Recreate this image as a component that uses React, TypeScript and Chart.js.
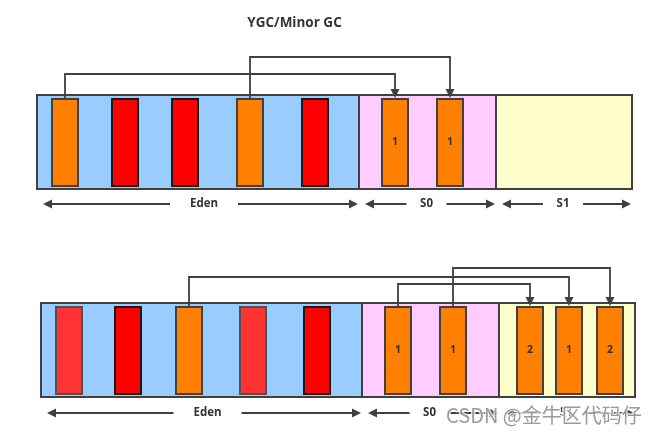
import React, { useEffect, useRef } from "react";
import { Chart, registerables } from "chart.js";

Chart.register(...registerables);

// ---- diagram data ----
const TITLE = "YGC/Minor GC";
const WATERMARK = "CSDN @金牛区代码仔";
const REGION_NAMES = ["Eden", "S0", "S1"];
const REGION_COLORS = ["#99CCFF", "#FFCCFF", "#FFFFCC"];

// row extents (top / bottom) in diagram units
const ROW_TOP = [95, 303];
const ROW_BOTTOM = [189, 397];
const ROW_LABEL_Y = [204, 413];

// region boundaries per row
const ROW1_BOUNDS = [37, 359, 496, 632];
const ROW2_BOUNDS = [41, 362, 499, 635];

// block left edges per row
const ROW1_BLOCKS = [52, 112, 172, 237, 302, 382, 437];
const ROW2_BLOCKS = [56, 115, 176, 240, 304, 385, 440, 517, 556, 597];
// block kinds: "live" (orange), "dead" (red), "dim" (light red)
const ROW1_KINDS = ["live", "dead", "dead", "live", "dead", "live", "live"];
const ROW2_KINDS = ["dim", "dead", "live", "dim", "dead", "live", "live", "live", "live", "live"];
// block age labels
const ROW1_AGES = ["", "", "", "", "", "1", "1"];
const ROW2_AGES = ["", "", "", "", "", "1", "1", "2", "1", "2"];

// connectors: [fromBlock, toBlock, elbowY]
const ROW1_MOVES = [
  [0, 5, 74],
  [3, 6, 57],
];
const ROW2_MOVES = [
  [2, 8, 277],
  [5, 7, 284],
  [6, 9, 268],
];

// label arrows: offset of label centre from region centre, half-gap around text
const LABEL_OFFSET = [6, -1, -1];
const LABEL_GAP = [34, 20, 20];

const BLOCK_W = 26;

const STYLE = {
  line: "#404040",
  live: "#FF8000",
  dead: "#FF0000",
  dim: "#FF3333",
  liveBorder: "#404040",
  deadBorder: "#1a1a1a",
  dimBorder: "#505050",
  text: "#333333",
};

const diagramPlugin = {
  id: "gcDiagram",
  afterDraw(chart: any) {
    const { ctx } = chart;
    const xs = chart.scales.x;
    const ys = chart.scales.y;
    const px = (v: number) => xs.getPixelForValue(v);
    const py = (v: number) => ys.getPixelForValue(v);

    ctx.save();

    // title
    ctx.fillStyle = STYLE.text;
    ctx.font = "bold 13.5px 'Open Sans', 'DejaVu Sans', sans-serif";
    ctx.textAlign = "center";
    ctx.textBaseline = "middle";
    ctx.fillText(TITLE, px(294.5), py(23));

    const rows = [
      { bounds: ROW1_BOUNDS, blocks: ROW1_BLOCKS, kinds: ROW1_KINDS, ages: ROW1_AGES, moves: ROW1_MOVES },
      { bounds: ROW2_BOUNDS, blocks: ROW2_BLOCKS, kinds: ROW2_KINDS, ages: ROW2_AGES, moves: ROW2_MOVES },
    ];

    const arrowHead = (x: number, y: number, dir: "down" | "left" | "right") => {
      ctx.beginPath();
      const L = 9, W = 4.5;
      if (dir === "down") {
        ctx.moveTo(x, y);
        ctx.lineTo(x - W, y - L);
        ctx.lineTo(x + W, y - L);
      } else if (dir === "left") {
        ctx.moveTo(x, y);
        ctx.lineTo(x + L, y - W);
        ctx.lineTo(x + L, y + W);
      } else {
        ctx.moveTo(x, y);
        ctx.lineTo(x - L, y - W);
        ctx.lineTo(x - L, y + W);
      }
      ctx.closePath();
      ctx.fillStyle = STYLE.line;
      ctx.fill();
    };

    rows.forEach((row, r) => {
      const top = py(ROW_TOP[r]);
      const bottom = py(ROW_BOTTOM[r]);
      // regions
      for (let i = 0; i < 3; i++) {
        const x0 = px(row.bounds[i]);
        const x1 = px(row.bounds[i + 1]);
        ctx.fillStyle = REGION_COLORS[i];
        ctx.fillRect(x0, top, x1 - x0, bottom - top);
      }
      ctx.strokeStyle = STYLE.line;
      ctx.lineWidth = 2;
      for (let i = 0; i < 3; i++) {
        const x0 = px(row.bounds[i]);
        const x1 = px(row.bounds[i + 1]);
        ctx.strokeRect(x0, top, x1 - x0, bottom - top);
      }

      // blocks
      const bTop = py(ROW_TOP[r] + 4);
      const bBot = py(ROW_BOTTOM[r] - 3);
      row.blocks.forEach((bx, i) => {
        const kind = row.kinds[i];
        const x0 = px(bx);
        const x1 = px(bx + BLOCK_W);
        ctx.fillStyle = kind === "live" ? STYLE.live : kind === "dead" ? STYLE.dead : STYLE.dim;
        ctx.fillRect(x0, bTop, x1 - x0, bBot - bTop);
        ctx.strokeStyle = kind === "live" ? STYLE.liveBorder : kind === "dead" ? STYLE.deadBorder : STYLE.dimBorder;
        ctx.lineWidth = 2;
        ctx.strokeRect(x0, bTop, x1 - x0, bBot - bTop);
        if (row.ages[i]) {
          ctx.fillStyle = STYLE.text;
          ctx.font = "bold 10.5px 'Open Sans', 'DejaVu Sans', sans-serif";
          ctx.textAlign = "center";
          ctx.textBaseline = "middle";
          ctx.fillText(row.ages[i], (x0 + x1) / 2, (bTop + bBot) / 2);
        }
      });

      // connectors
      ctx.strokeStyle = STYLE.line;
      ctx.lineWidth = 1.8;
      row.moves.forEach(([from, to, ey]) => {
        const fx = px(row.blocks[from] + BLOCK_W / 2);
        const tx = px(row.blocks[to] + BLOCK_W / 2);
        const y = py(ey);
        ctx.beginPath();
        ctx.moveTo(fx, bTop);
        ctx.lineTo(fx, y);
        ctx.lineTo(tx, y);
        ctx.lineTo(tx, bTop - 6);
        ctx.stroke();
        arrowHead(tx, bTop - 1, "down");
      });

      // region labels with dimension arrows
      const ly = py(ROW_LABEL_Y[r]);
      for (let i = 0; i < 3; i++) {
        const x0 = row.bounds[i];
        const x1 = row.bounds[i + 1];
        const c = (x0 + x1) / 2 + LABEL_OFFSET[i];
        const leftTip = px(x0 + 6);
        const rightTip = px(x1 - 1);
        ctx.strokeStyle = STYLE.line;
        ctx.lineWidth = 1.8;
        ctx.beginPath();
        ctx.moveTo(leftTip + 6, ly);
        ctx.lineTo(px(c - LABEL_GAP[i]), ly);
        ctx.moveTo(px(c + LABEL_GAP[i]), ly);
        ctx.lineTo(rightTip - 6, ly);
        ctx.stroke();
        arrowHead(leftTip, ly, "left");
        arrowHead(rightTip, ly, "right");
        ctx.fillStyle = STYLE.text;
        ctx.font = "bold 11.5px 'Open Sans', 'DejaVu Sans', sans-serif";
        ctx.textAlign = "center";
        ctx.textBaseline = "middle";
        ctx.fillText(REGION_NAMES[i], px(c), ly);
      }
    });

    // watermark
    ctx.font = "20px 'Noto Sans CJK SC', sans-serif";
    ctx.textAlign = "left";
    ctx.textBaseline = "middle";
    ctx.lineWidth = 2.5;
    ctx.strokeStyle = "rgba(255,255,255,0.85)";
    ctx.strokeText(WATERMARK, px(446), py(415));
    ctx.fillStyle = "rgba(130,130,130,0.8)";
    ctx.fillText(WATERMARK, px(446), py(415));

    ctx.restore();
  },
};

export default function App() {
  const ref = useRef<HTMLCanvasElement | null>(null);
  useEffect(() => {
    if (!ref.current) return;
    const chart = new Chart(ref.current, {
      type: "scatter",
      data: { datasets: [{ data: [] }] },
      options: {
        animation: false,
        responsive: false,
        layout: { padding: 0 },
        plugins: { legend: { display: false }, tooltip: { enabled: false } },
        scales: {
          x: { type: "linear", min: 0, max: 660, display: false },
          y: { type: "linear", min: 0, max: 434, reverse: true, display: false },
        },
      },
      plugins: [diagramPlugin],
    } as any);
    return () => chart.destroy();
  }, []);
  return (
    <div style={{ position: "fixed", left: 0, top: 0, width: 660, height: 434, background: "#fff" }}>
      <canvas ref={ref} width={660} height={434} />
    </div>
  );
}
